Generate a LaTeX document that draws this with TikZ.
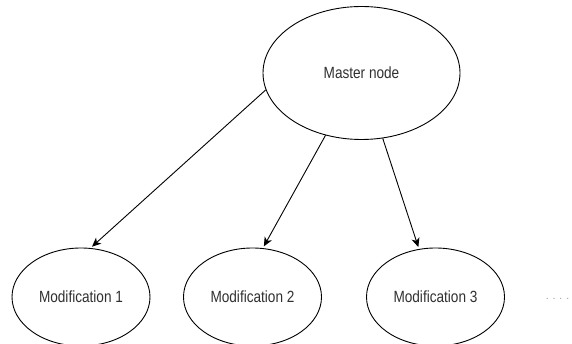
\documentclass[tikz,border=0pt]{standalone}
\usepackage{fontspec}
\setmainfont{Liberation Sans}[FakeStretch=0.84]
\newfontfamily\dotfont{Liberation Sans}
\usetikzlibrary{arrows.meta,shapes.geometric}
\definecolor{labelgray}{HTML}{303030}
\definecolor{dotgray}{HTML}{9A9A9A}
\tikzset{
  x=1pt, y=-1pt,
  oval/.style={draw=black, line width=0.9pt, ellipse, inner sep=0pt,
    minimum width=#1, font=\fontsize{16.2}{19}\selectfont, text=labelgray},
  oval/.default=138pt,
  link/.style={draw=black, line width=0.9pt, shorten >=2pt,
    -{Stealth[length=9pt, width=8pt, inset=2.5pt]}},
}
\begin{document}
\begin{tikzpicture}
  \useasboundingbox (0,0) rectangle (572,344);
  % parent node
  \node[oval=197pt, minimum height=133pt] (master) at (361.5,73) {Master node};
  % child nodes
  \node[oval, minimum height=98pt] (mod1) at (81,297) {Modification 1};
  \node[oval, minimum height=98pt] (mod2) at (252.5,297) {Modification 2};
  \node[oval, minimum height=98pt] (mod3) at (435.5,297) {Modification 3};
  \node[text=dotgray, font=\dotfont\fontsize{10.5}{12}\selectfont] (more) at (557.5,299) {. . . .};
  % connectors
  \draw[link] (master.190) -- (mod1.79);
  \draw[link] (master.240) -- (mod2.78);
  \draw[link] (master.288) -- (mod3.109);
\end{tikzpicture}
\end{document}
